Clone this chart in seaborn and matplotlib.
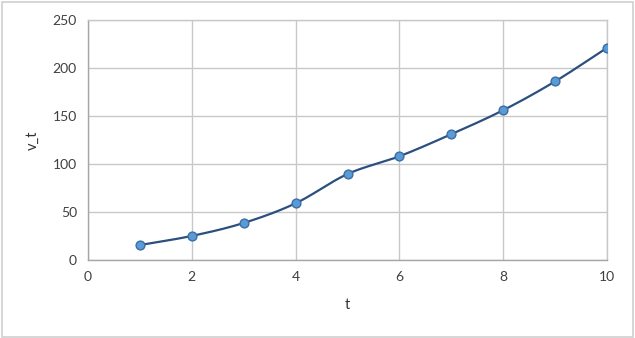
import numpy as np
import pandas as pd
import matplotlib
matplotlib.use("Agg")
import matplotlib.pyplot as plt
import seaborn as sns
from matplotlib.patches import Rectangle

# data
t = [1, 2, 3, 4, 5, 6, 7, 8, 9, 10]
v_t = [15.5, 25, 38.5, 59, 89.5, 108, 131, 156, 186, 221]

x_ticks = [0, 2, 4, 6, 8, 10]
y_ticks = [0, 50, 100, 150, 200, 250]

sns.set_style("white")
plt.rcParams["font.family"] = ["Lato", "DejaVu Sans"]


def smooth(xs, ys, n=20):
    # catmull-rom style smoothing, like Excel's smoothed line
    xs = np.asarray(xs, float)
    ys = np.asarray(ys, float)
    px = np.concatenate([[2 * xs[0] - xs[1]], xs, [2 * xs[-1] - xs[-2]]])
    py = np.concatenate([[2 * ys[0] - ys[1]], ys, [2 * ys[-1] - ys[-2]]])
    out_x, out_y = [], []
    for i in range(1, len(px) - 2):
        s = np.linspace(0, 1, n, endpoint=False)
        for arr, out in ((px, out_x), (py, out_y)):
            p0, p1, p2, p3 = arr[i - 1], arr[i], arr[i + 1], arr[i + 2]
            out.extend(0.5 * (2 * p1 + (-p0 + p2) * s
                              + (2 * p0 - 5 * p1 + 4 * p2 - p3) * s ** 2
                              + (-p0 + 3 * p1 - 3 * p2 + p3) * s ** 3))
    out_x.append(xs[-1])
    out_y.append(ys[-1])
    return pd.DataFrame({"t": out_x, "v_t": out_y})


df = pd.DataFrame({"t": t, "v_t": v_t})
curve = smooth(t, v_t)

fig = plt.figure(figsize=(6.35, 3.38), dpi=100)
ax = fig.add_axes([0.1386, 0.231, 0.8174, 0.710])

sns.lineplot(data=curve, x="t", y="v_t", ax=ax, color="#2B4F7E", linewidth=1.6,
             sort=False, zorder=3)
sns.scatterplot(data=df, x="t", y="v_t", ax=ax, s=40, color="#5B9BD5",
                edgecolor="#3A6EA5", linewidth=1.0, zorder=4)

ax.set_xlim(0, 10)
ax.set_ylim(0, 250)
ax.set_xticks(x_ticks)
ax.set_yticks(y_ticks)
ax.grid(True, color="#C8C8C8", linewidth=1.0)
ax.set_axisbelow(True)
for side in ["top", "right"]:
    ax.spines[side].set_color("#C8C8C8")
    ax.spines[side].set_linewidth(1.0)
for side in ["left", "bottom"]:
    ax.spines[side].set_color("#A6A6A6")
    ax.spines[side].set_linewidth(1.0)
ax.tick_params(axis="both", length=0, labelsize=10, colors="#404040", pad=8)
ax.set_xlabel("t", fontsize=10.5, color="#333333", labelpad=11)
ax.set_ylabel("v_t", fontsize=10.5, color="#333333", labelpad=9)

# light frame around the whole chart
fig.patches.append(Rectangle((0.003, 0.004), 0.994, 0.99, transform=fig.transFigure,
                             fill=False, edgecolor="#D0D0D0", linewidth=1.2))

fig.savefig("out.png", dpi=100)
